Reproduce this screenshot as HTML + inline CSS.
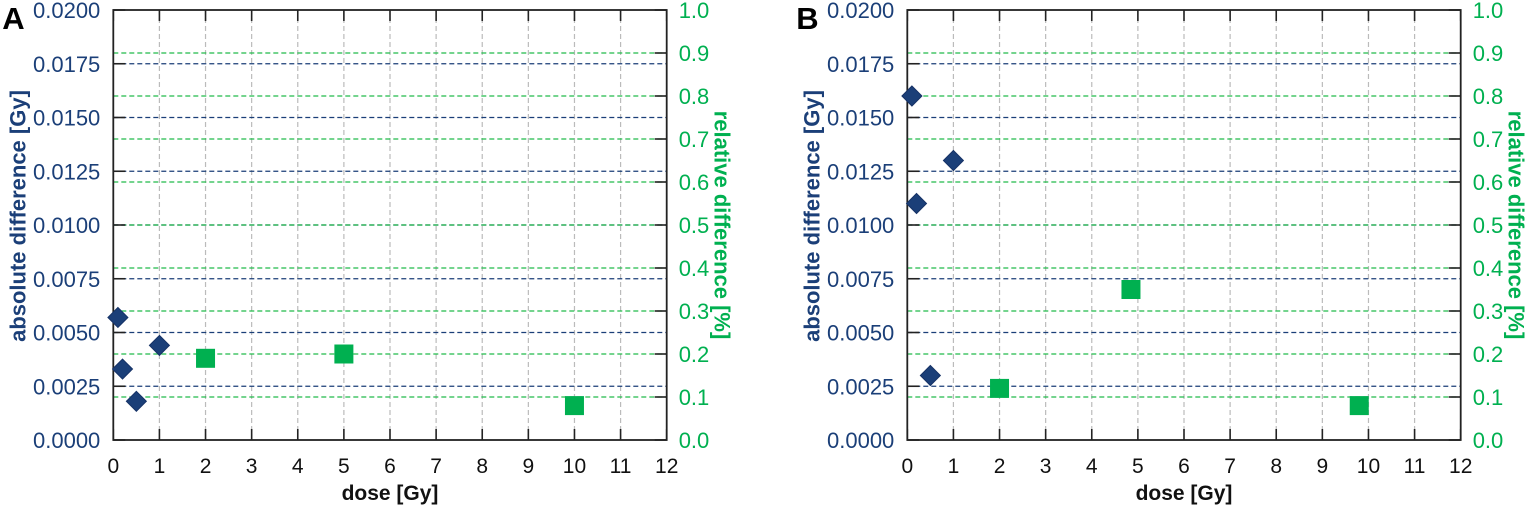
<!DOCTYPE html>
<html><head><meta charset="utf-8"><style>
body{margin:0;background:#fff;}
svg{display:block;font-family:"Liberation Sans",sans-serif;}
</style></head><body>
<svg id="chart" width="1535" height="509"></svg>
<script>
const xTicks=[0,1,2,3,4,5,6,7,8,9,10,11,12];
const yTicks=[0,0.0025,0.005,0.0075,0.01,0.0125,0.015,0.0175,0.02];
const y2Ticks=[0,0.1,0.2,0.3,0.4,0.5,0.6,0.7,0.8,0.9,1.0];
const panelLabels=["A","B"];
const absDoseA=[0.1,0.2,0.5,1];
const absValA=[0.0057,0.0033,0.0018,0.0044];
const relDoseA=[2,5,10];
const relValA=[0.19,0.20,0.08];
const absDoseB=[0.1,0.2,0.5,1];
const absValB=[0.016,0.011,0.003,0.013];
const relDoseB=[2,4.85,9.8];
const relValB=[0.12,0.35,0.08];

const NS="http://www.w3.org/2000/svg";
const svg=document.getElementById('chart');
const BLUE="#1b3f78",GREEN="#00b050";
function mk(t,a,p){const e=document.createElementNS(NS,t);for(const k in a)e.setAttribute(k,a[k]);(p||svg).appendChild(e);return e;}
function panel(ox,label,ad,av,rd,rv,pi){
  const g=mk('g',{});
  
  
  const L=ox,R=ox+553.4,T=10,B=440;
  const X=v=>L+(v/12)*(R-L);
  const Y=v=>B-(v/0.02)*(B-T);
  const Y2=v=>B-(v/1)*(B-T);
  xTicks.forEach(v=>{if(v>0&&v<12){const l=mk('line',{x1:X(v),x2:X(v),y1:T,y2:B,stroke:'#bbb','stroke-width':1.2,'stroke-dasharray':'5,3'},g);}});
  yTicks.forEach(v=>{if(v>0&&v<0.02){const l=mk('line',{x1:L,x2:R,y1:Y(v),y2:Y(v),stroke:BLUE,'stroke-width':1.2,'stroke-dasharray':'5,3'},g);}});
  y2Ticks.forEach(v=>{if(v>0&&v<1){const l=mk('line',{x1:L,x2:R,y1:Y2(v),y2:Y2(v),stroke:'#22bb4a','stroke-width':1.2,'stroke-dasharray':'5,3'},g);}});
  xTicks.forEach(v=>{
    mk('line',{x1:X(v),x2:X(v),y1:B,y2:B-11,stroke:'#222','stroke-width':1.6},g);
    mk('line',{x1:X(v),x2:X(v),y1:T,y2:T+11,stroke:'#222','stroke-width':1.6},g);
    const t=mk('text',{x:X(v),y:473,'text-anchor':'middle','font-size':21,fill:'#111'},g);t.textContent=v;
    
  });
  yTicks.forEach(v=>{
    mk('line',{x1:L,x2:L+12,y1:Y(v),y2:Y(v),stroke:'#222','stroke-width':1.6},g);
    const t=mk('text',{x:L-13,y:Y(v)+8,'text-anchor':'end','font-size':22,fill:BLUE},g);t.textContent=v.toFixed(4);
    
  });
  y2Ticks.forEach(v=>{
    mk('line',{x1:R,x2:R-12,y1:Y2(v),y2:Y2(v),stroke:'#222','stroke-width':1.6},g);
    const t=mk('text',{x:R+12,y:Y2(v)+8,'text-anchor':'start','font-size':22,fill:GREEN},g);t.textContent=v.toFixed(1);
    
  });
  const fr=mk('rect',{x:L,y:T,width:R-L,height:B-T,fill:'none',stroke:'#222','stroke-width':1.8},g);
  
  rd.forEach((d,i)=>{const s=mk('rect',{x:X(d)-9.5,y:Y2(rv[i])-9.5,width:19,height:19,fill:GREEN},g);
    });
  ad.forEach((d,i)=>{const cx=X(d),cy=Y(av[i]);const s=mk('polygon',{points:`${cx},${cy-10} ${cx+10},${cy} ${cx},${cy+10} ${cx-10},${cy}`,fill:BLUE,stroke:'#163266','stroke-width':1},g);
    });
  let t=mk('text',{x:(L+R)/2,y:500,'text-anchor':'middle','font-size':21,'font-weight':'bold',fill:'#111'},g);t.textContent='dose [Gy]';
  
  t=mk('text',{x:0,y:0,'text-anchor':'middle','font-size':22,'font-weight':'bold',fill:BLUE,transform:`translate(${L-88},216) rotate(-90)`},g);t.textContent='absolute difference [Gy]';
  
  t=mk('text',{x:0,y:0,'text-anchor':'middle','font-size':22,'font-weight':'bold',fill:GREEN,transform:`translate(${R+48},225) rotate(90)`},g);t.textContent='relative difference [%]';
  
  t=mk('text',{x:L-111,y:29,'font-size':31,'font-weight':'bold',fill:'#000'},g);t.textContent=label;
  
}
panel(113.3,panelLabels[0],absDoseA,absValA,relDoseA,relValA,0);
panel(907.3,panelLabels[1],absDoseB,absValB,relDoseB,relValB,1);
</script>
</body></html>
